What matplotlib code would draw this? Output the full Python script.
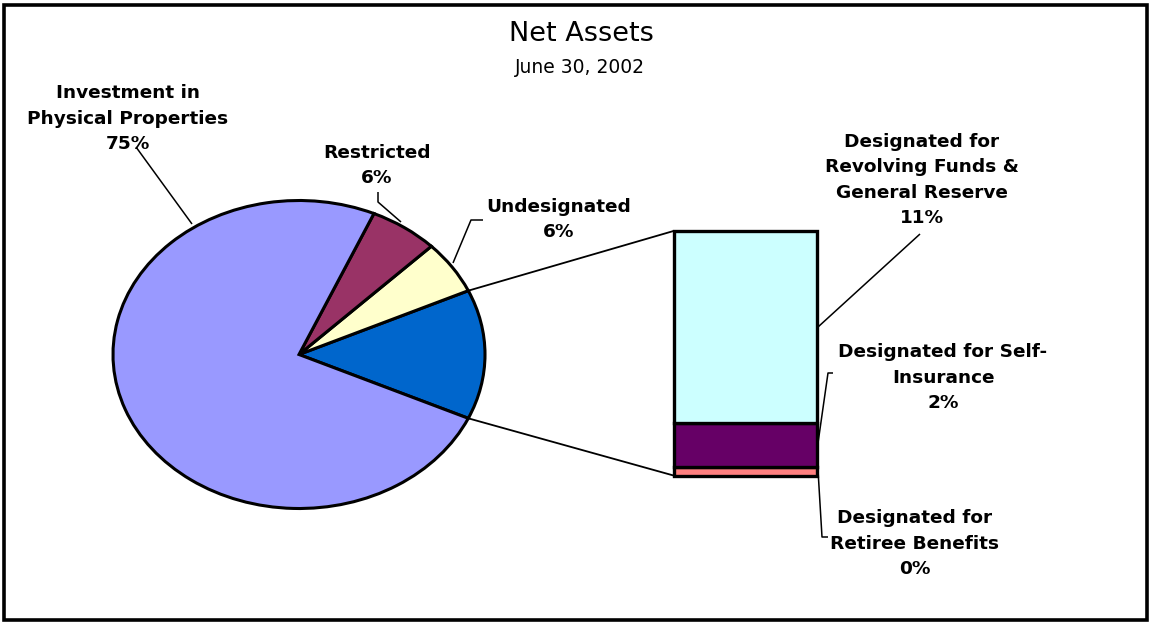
import matplotlib
matplotlib.use("Agg")
import matplotlib.pyplot as plt
from matplotlib.patches import Rectangle, ConnectionPatch
import numpy as np

# ---------------- data ----------------
title = "Net Assets"
subtitle = "June 30, 2002"

pie_names = ["Undesignated", "Restricted", "Investment in\nPhysical Properties"]
pie_values = [5.6, 6.0, 74.8]
pie_colors = ["#FFFFCC", "#993366", "#9999FF"]
other_color = "#0066CC"

bar_names = ["Designated for\nRetiree Benefits",
             "Designated for Self-\nInsurance",
             "Designated for\nRevolving Funds &\nGeneral Reserve"]
bar_values = [0.45, 2.45, 10.7]
bar_colors = ["#FF8080", "#660066", "#CCFFFF"]

# ---------------- layout ----------------
W, H = 1152, 622
fig = plt.figure(figsize=(W / 100, H / 100), dpi=100)
fig.patch.set_facecolor("white")

ax = fig.add_axes([0, 0, 1, 1])
ax.set_xlim(0, W)
ax.set_ylim(H, 0)
ax.axis("off")

# border
ax.add_patch(Rectangle((4, 5), 1143, 615, fill=False, edgecolor="black",
                       linewidth=2.6, clip_on=False))

# pie (elliptical: axes not square, aspect auto)
cx, cy, rx, ry = 299, 354.5, 186, 154
pax = fig.add_axes([(cx - rx) / W, (H - cy - ry) / H, 2 * rx / W, 2 * ry / H])
other_total = sum(bar_values)
values = [other_total] + pie_values
colors = [other_color] + pie_colors
start = -other_total * 3.6 / 2
wedges, _ = pax.pie(values, colors=colors, startangle=start, counterclock=True,
                    wedgeprops=dict(edgecolor="black", linewidth=2.2))
for w in wedges:
    w.set_clip_on(False)
pax.set_aspect("auto")
pax.set_xlim(-1, 1)
pax.set_ylim(-1, 1)
pax.axis("off")

# stacked bar
bx0, bx1, btop, bbot = 673.5, 817, 231, 475.5
bax = fig.add_axes([bx0 / W, (H - bbot) / H, (bx1 - bx0) / W, (bbot - btop) / H])
bottoms = np.concatenate([[0], np.cumsum(bar_values)[:-1]])
bars = bax.bar([0.5] * len(bar_values), bar_values, width=1, bottom=bottoms,
               color=bar_colors, edgecolor="black", linewidth=2.4)
for b in bars:
    b.set_clip_on(False)
bax.set_xlim(0, 1)
bax.set_ylim(0, other_total)
bax.axis("off")

# connector lines pie -> bar
tot = sum(values)
th0 = np.deg2rad(start)
th1 = np.deg2rad(start + 360 * other_total / tot)
for th, yb in [(th1, other_total), (th0, 0)]:
    con = ConnectionPatch(xyA=(np.cos(th), np.sin(th)), coordsA=pax.transData,
                          xyB=(0, yb), coordsB=bax.transData,
                          color="black", linewidth=1.3)
    fig.add_artist(con)

# titles
ax.text(581, 41, title, ha="center", va="baseline", fontsize=19.5,
        family="DejaVu Sans", color="black")
ax.text(580, 73, subtitle, ha="center", va="baseline", fontsize=13.5,
        family="DejaVu Sans", color="black")

# labels (x center, first-line baseline)
PITCH = 26
lab_kw = dict(ha="center", va="baseline", fontsize=13.3, fontweight="bold",
              family="DejaVu Sans", color="black", linespacing=1.52,
              multialignment="center")
pct = lambda v: f"{v:.0f}%"


def label(x, y_first, s):
    n = s.count("\n") + 1
    ax.text(x, y_first + (n - 1) * PITCH, s, **lab_kw)


label(128, 97, f"{pie_names[2]}\n{pct(pie_values[2])}")
label(377, 157, f"{pie_names[1]}\n{pct(pie_values[1])}")
label(559, 211, f"{pie_names[0]}\n{pct(pie_values[0])}")
label(922, 145, f"{bar_names[2]}\n{pct(bar_values[2])}")
label(943, 356, f"{bar_names[1]}\n{pct(bar_values[1])}")
label(915, 522, f"{bar_names[0]}\n{pct(bar_values[0])}")

# leader lines (annotation layout)
leaders = [
    [(136, 147), (192, 224)],
    [(378, 192), (378, 202), (401, 222)],
    [(483, 220), (471, 220), (453, 263)],
    [(920, 234), (818, 327)],
    [(833, 373), (828, 373), (818, 443)],
    [(818, 470), (822, 537), (828, 537)],
]
for pts in leaders:
    xs, ys = zip(*pts)
    ax.plot(xs, ys, color="black", linewidth=1.1, solid_capstyle="butt")

fig.savefig("out.png", dpi=100)
